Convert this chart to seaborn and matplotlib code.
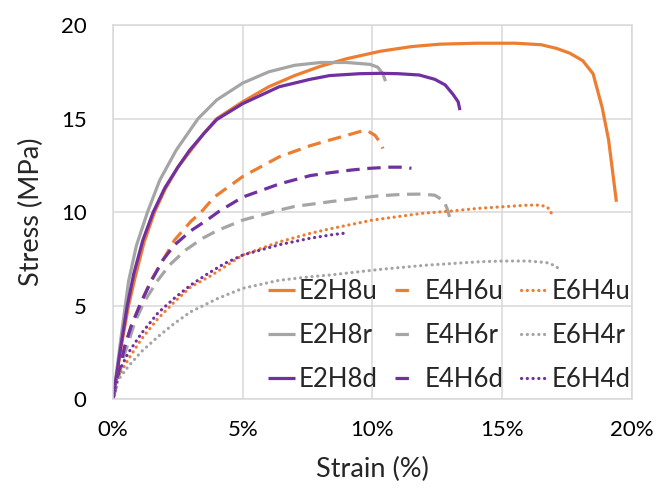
import numpy as np
import pandas as pd
import matplotlib
matplotlib.use("Agg")
import matplotlib.pyplot as plt
import seaborn as sns
from matplotlib.ticker import FuncFormatter

# ---- data (strain in %, stress in MPa) ----
series_names = ["E2H8u", "E2H8r", "E2H8d", "E4H6u", "E4H6r", "E4H6d", "E6H4u", "E6H4r", "E6H4d"]

e2h8u_x = [0, 0.3, 0.6, 0.85, 1.2, 1.6, 2.0, 2.5, 3.0, 3.5, 4.0, 5.0, 6.0, 7.0, 8.0, 9.0, 10.3, 11.5, 12.6, 14.0, 15.5, 16.5, 17.1, 17.6, 18.1, 18.5, 18.85, 19.1, 19.4]
e2h8u_y = [0, 2.7, 5.0, 6.5, 8.4, 10.0, 11.2, 12.4, 13.3, 14.2, 15.0, 15.9, 16.7, 17.3, 17.8, 18.2, 18.6, 18.85, 18.98, 19.03, 19.03, 18.95, 18.75, 18.5, 18.1, 17.4, 15.6, 13.85, 10.55]

e2h8r_x = [0, 0.3, 0.6, 0.9, 1.33, 1.8, 2.43, 3.28, 4.0, 5.0, 6.0, 7.0, 8.0, 9.0, 9.9, 10.2, 10.4, 10.5]
e2h8r_y = [0, 3.2, 6.3, 8.2, 10.0, 11.7, 13.3, 15.0, 16.0, 16.9, 17.5, 17.85, 18.0, 18.0, 17.9, 17.75, 17.4, 17.0]

e2h8d_x = [0, 0.3, 0.55, 0.8, 1.15, 1.55, 2.0, 2.5, 2.95, 3.5, 4.0, 5.0, 6.4, 7.6, 8.35, 9.5, 10.3, 11.0, 11.8, 12.4, 12.8, 13.1, 13.3, 13.37]
e2h8d_y = [0, 2.8, 5.0, 6.7, 8.5, 10.0, 11.3, 12.4, 13.3, 14.2, 14.95, 15.8, 16.7, 17.1, 17.3, 17.4, 17.42, 17.4, 17.33, 17.1, 16.8, 16.3, 15.9, 15.45]

e4h6u_x = [0, 0.45, 0.7, 1.09, 1.47, 1.86, 2.37, 3.0, 3.4, 3.9, 5.0, 6.4, 7.6, 8.35, 9.0, 9.5, 9.8, 10.1, 10.3, 10.4]
e4h6u_y = [0, 2.8, 3.9, 5.2, 6.36, 7.27, 8.5, 9.5, 10.0, 10.8, 11.9, 12.95, 13.55, 13.85, 14.1, 14.3, 14.35, 14.1, 13.7, 13.4]

e4h6r_x = [0, 0.4, 0.83, 1.2, 1.7, 2.18, 2.8, 3.46, 4.0, 5.0, 6.4, 7.0, 8.35, 9.3, 10.27, 11.2, 11.9, 12.4, 12.75, 12.9, 13.0]
e4h6r_y = [0, 2.2, 4.06, 5.2, 6.3, 7.17, 7.97, 8.6, 9.0, 9.57, 10.1, 10.3, 10.55, 10.72, 10.87, 10.95, 10.96, 10.9, 10.6, 10.1, 9.57]

e4h6d_x = [0, 0.45, 0.7, 1.09, 1.47, 1.92, 2.37, 3.0, 3.65, 4.1, 5.0, 6.4, 7.6, 8.35, 9.2, 9.9, 10.65, 11.2, 11.5]
e4h6d_y = [0, 2.8, 3.9, 5.2, 6.3, 7.43, 8.24, 9.0, 9.6, 10.05, 10.8, 11.5, 11.95, 12.1, 12.25, 12.34, 12.4, 12.4, 12.34]

e6h4u_x = [0, 0.2, 0.58, 1.09, 1.73, 2.37, 3.0, 3.78, 5.0, 6.4, 7.6, 8.35, 10.0, 11.9, 13.0, 14.1, 15.2, 16.0, 16.4, 16.7, 16.85, 16.9]
e6h4u_y = [0, 1.2, 2.1, 3.2, 4.3, 5.2, 6.0, 6.6, 7.7, 8.4, 8.86, 9.1, 9.57, 9.93, 10.05, 10.2, 10.3, 10.37, 10.37, 10.3, 10.1, 9.9]

e6h4r_x = [0, 0.19, 0.58, 1.09, 1.73, 2.37, 3.0, 4.04, 5.0, 6.4, 7.6, 8.35, 10.27, 12.0, 14.1, 15.0, 16.0, 16.7, 17.0, 17.26]
e6h4r_y = [0, 1.0, 1.73, 2.53, 3.33, 4.05, 4.67, 5.38, 5.92, 6.35, 6.54, 6.63, 6.93, 7.15, 7.34, 7.38, 7.38, 7.3, 7.15, 6.9]

e6h4d_x = [0, 0.2, 0.58, 1.09, 1.73, 2.37, 3.0, 3.65, 4.3, 5.0, 6.4, 7.6, 8.5, 9.0]
e6h4d_y = [0, 1.4, 2.45, 3.5, 4.6, 5.4, 6.1, 6.7, 7.25, 7.7, 8.25, 8.6, 8.8, 8.88]

x_ticks = [0, 5, 10, 15, 20]
y_ticks = [0, 5, 10, 15, 20]

series_x = [e2h8u_x, e2h8r_x, e2h8d_x, e4h6u_x, e4h6r_x, e4h6d_x, e6h4u_x, e6h4r_x, e6h4d_x]
series_y = [e2h8u_y, e2h8r_y, e2h8d_y, e4h6u_y, e4h6r_y, e4h6d_y, e6h4u_y, e6h4r_y, e6h4d_y]

# ---- styles ----
ORANGE = "#ED7D31"
GRAY = "#A5A5A5"
PURPLE = "#7030A0"
colors = [ORANGE, GRAY, PURPLE] * 3
LW = 2.3
DASHED = (0, (4.2, 2.4))
DOTTED = (0, (0.05, 1.75))
styles = ["-"] * 3 + [DASHED] * 3 + [DOTTED] * 3

sns.set_theme(style="white")
plt.rcParams["font.family"] = ["Lato", "DejaVu Sans"]

fig = plt.figure(figsize=(6.59, 4.92), dpi=100)
ax = fig.add_axes([0.1715, 0.189, 0.7875, 0.760])

frames = []
for name, xs, ys in zip(series_names, series_x, series_y):
    frames.append(pd.DataFrame({"Strain": xs, "Stress": ys, "Series": name}))
df = pd.concat(frames, ignore_index=True)

for name, c, ls in zip(series_names, colors, styles):
    sub = df[df["Series"] == name]
    sns.lineplot(data=sub, x="Strain", y="Stress", ax=ax, color=c, linewidth=LW,
                 linestyle=ls, sort=False, estimator=None, label=name,
                 solid_capstyle="butt",
                 dash_capstyle="round" if ls is DOTTED else "butt")

ax.set_xlim(0, 20)
ax.set_ylim(0, 20)
ax.set_xticks(x_ticks)
ax.set_yticks(y_ticks)
ax.xaxis.set_major_formatter(FuncFormatter(lambda v, p: f"{v:.0f}%"))
ax.tick_params(axis="both", length=0, labelsize=16, colors="#000000")
ax.tick_params(axis="x", pad=15)
ax.tick_params(axis="y", pad=19)
ax.grid(True, color="#D9D9D9", linewidth=1.1)
ax.set_axisbelow(True)
for s in ax.spines.values():
    s.set_color("#D9D9D9")
    s.set_linewidth(1.1)
ax.set_xlabel("Strain (%)", fontsize=19.5, labelpad=12)
ax.set_ylabel("Stress (MPa)", fontsize=19.5, labelpad=12)

handles, labels = ax.get_legend_handles_labels()
leg = ax.legend(handles, labels, ncol=3, loc="upper left",
                bbox_to_anchor=(0.299, 0.32), frameon=False,
                fontsize=18.5, handlelength=1.05, handletextpad=0.13,
                columnspacing=0.67, labelspacing=0.74,
                borderpad=0, borderaxespad=0)
# dashed legend keys show a single dash, as in the reference
for ln in leg.get_lines()[3:6]:
    ln.set_linestyle((0, (4.2, 20)))

fig.savefig("out.png", dpi=100)
